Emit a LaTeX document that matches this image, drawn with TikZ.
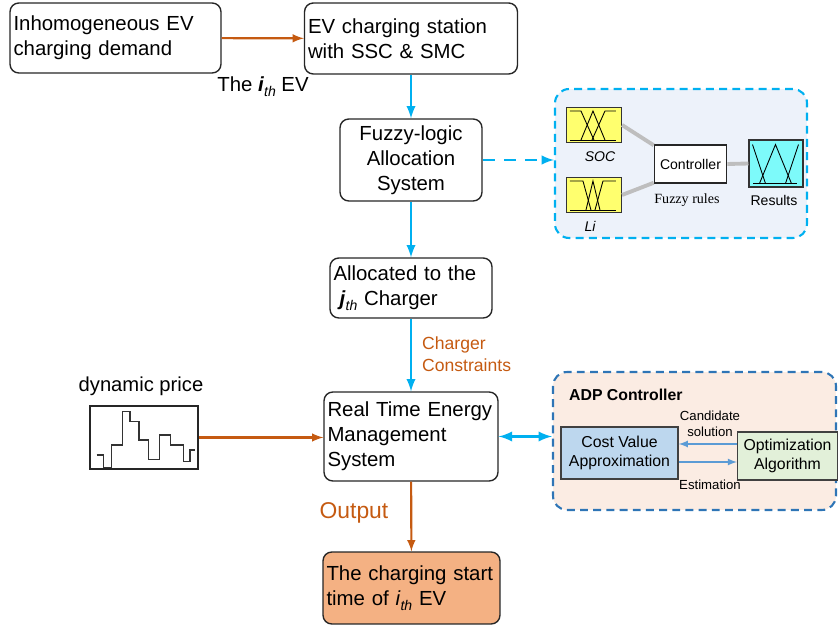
\documentclass[tikz,border=0pt]{standalone}
\usepackage{fontspec}
\setmainfont{Liberation Sans}
\newfontfamily\rulesfont{Liberation Serif}
\usepackage{tikz}
\usetikzlibrary{arrows}
\definecolor{skyline}{RGB}{0, 176, 240}
\definecolor{burnt}{RGB}{197, 90, 17}
\definecolor{peach}{RGB}{244, 177, 131}
\definecolor{mist}{RGB}{237, 242, 250}
\definecolor{blush}{RGB}{251, 236, 227}
\definecolor{adpblue}{RGB}{46, 117, 182}
\definecolor{costblue}{RGB}{189, 215, 238}
\definecolor{optgreen}{RGB}{226, 240, 217}
\definecolor{steel}{RGB}{91, 155, 213}
\definecolor{mfyellow}{RGB}{255, 255, 110}
\definecolor{mfcyan}{RGB}{125, 250, 250}
\definecolor{railgray}{RGB}{190, 190, 190}
\newcommand{\ordth}{\raisebox{-0.45ex}{\fontsize{8}{8}\selectfont\textit{th}}}
\hyphenpenalty=10000

\tikzset{
  mainbox/.style={draw=black!85, line width=0.8pt, rounded corners=5pt, fill=white,
                  align=left, inner xsep=0.07cm, font=\fontsize{11.6}{14.2}\selectfont},
  flowblue/.style={-latex, draw=skyline, line width=1.4pt},
  floworange/.style={-latex, draw=burnt, line width=1.2pt},
  orangelabel/.style={text=burnt, align=left, font=\fontsize{10}{12.5}\selectfont},
  panel/.style={line width=1.2pt, dash pattern=on 4.5pt off 3pt, rounded corners=8pt},
  mfbox/.style={draw=black!80, line width=0.6pt, minimum width=1.10cm, minimum height=0.70cm},
  mfline/.style={black, line width=0.5pt},
  rail/.style={railgray, line width=2.2pt},
  small/.style={font=\fontsize{8}{9.5}\selectfont},
  adpbox/.style={draw=black!75, line width=0.8pt, align=center, font=\fontsize{9}{11}\selectfont},
  adparrow/.style={-latex, draw=steel, line width=0.8pt}
}

\begin{document}
\begin{tikzpicture}[x=0.02cm, y=-0.02cm]
            \useasboundingbox (0,0) rectangle (840,628);
            % Main flow
            \node[mainbox, minimum width=4.22cm, minimum height=1.40cm, text width=4.08cm] (demand)    at (115.5, 38.0) {Inhomogeneous EV\\charging demand};
            \node[mainbox, minimum width=4.26cm, minimum height=1.42cm, text width=4.12cm] (station)   at (411.0, 38.5) {EV charging station\\with SSC \& SMC};
            \node[mainbox, minimum width=2.84cm, minimum height=1.64cm, text width=2.70cm, align=center]
                                                                                           (fuzzysys)  at (411.0,160.0) {Fuzzy-logic\\Allocation\\System};
            \node[mainbox, minimum width=3.24cm, minimum height=1.20cm, text width=3.10cm] (alloc)     at (411.0,288.0) {Allocated to the\\\hspace{0.3em}\textbf{\textit{j}}\ordth{} Charger};
            \node[mainbox, minimum width=3.48cm, minimum height=1.78cm, text width=3.34cm] (rtem)      at (411.0,436.5) {Real Time Energy\\Management\\System};
            \node[mainbox, fill=peach, minimum width=3.54cm, minimum height=1.44cm, text width=3.40cm]
                                                                                           (starttime) at (411.5,588.0) {The charging start\\time of \textit{i}\ordth{} EV};
            \draw[floworange] (demand)   -- (station);
            \draw[flowblue]   (station)  -- (fuzzysys);
            \draw[flowblue]   (fuzzysys) -- (alloc);
            \draw[flowblue]   (alloc)    -- (rtem);
            \draw[floworange] (rtem)     -- (starttime);
            \node[font=\fontsize{11.6}{14}\selectfont] (ithev) at (263, 87) {The \textbf{\textit{i}}\ordth{} EV};
            \node[orangelabel, anchor=west] (constr) at (416,354) {Charger\\Constraints};
            \node[text=burnt, font=\fontsize{13}{15}\selectfont] (outlbl) at (354,513) {Output};
            % Dynamic price
            \node[font=\fontsize{11.5}{13}\selectfont] (pricelbl) at (141,386) {dynamic price};
            \node[draw=black!85, line width=0.8pt, minimum width=2.16cm, minimum height=1.26cm] (pricebox) at (144,437.5) {};
            \draw[black!80, line width=0.6pt] (96.7,455) -- (103.3,455) -- (103.3,467.7) -- (111.7,467.7) -- (111.7,445) -- (122.3,445)
                 -- (122.3,411.7) -- (130,411.7) -- (130,421.7) -- (139,421.7) -- (139,440) -- (148.3,440) -- (148.3,459.3)
                 -- (159.3,459.3) -- (159.3,435) -- (170.7,435) -- (170.7,445) -- (183.3,445) -- (183.3,461.7) -- (190,461.7)
                 -- (190,450) -- (194.7,450);
            \draw[floworange] (pricebox.east) -- (pricebox.east -| rtem.west);
            % Fuzzy panel
            \node[panel, draw=skyline, fill=mist, minimum width=5.04cm, minimum height=2.98cm] (fuzzy) at (681,163.5) {};
            \draw[flowblue, dash pattern=on 7pt off 5pt] (fuzzysys.east) -- (fuzzysys.east -| fuzzy.west);
            \node[mfbox, fill=mfyellow] (soc) at (594,125) {};
            \node[mfbox, fill=mfyellow] (li)  at (594,195) {};
            \node[draw=black!85, line width=0.6pt, fill=white, small, minimum width=1.34cm, minimum height=0.76cm] (ctrl) at (690.5,164) {Controller};
            \node[mfbox, fill=mfcyan, minimum width=1.08cm, minimum height=0.94cm] (res) at (776,163.5) {};
            \draw[rail] (soc.east)  -- (ctrl.153);
            \draw[rail] (li.east)   -- (ctrl.207);
            \draw[rail] (ctrl.east) -- (res.west);
            \begin{scope}[shift={(soc.south west)}]
              \draw[mfline] (4,-3) -- (50,-3);
              \draw[mfline] (4,-32) -- (15,-32) -- (28,-3);
              \draw[mfline] (15,-3) -- (27,-32) -- (39,-3);
              \draw[mfline] (26,-3) -- (39,-32) -- (50,-32);
            \end{scope}
            \begin{scope}[shift={(li.south west)}]
              \draw[mfline] (4,-3) -- (50,-3);
              \draw[mfline] (4,-32) -- (17,-32) -- (25,-3);
              \draw[mfline] (20,-3) -- (27,-32) -- (34,-3);
              \draw[mfline] (29,-3) -- (37,-32) -- (50,-32);
            \end{scope}
            \begin{scope}[shift={(res.south west)}]
              \draw[mfline] (5,-4) -- (49,-4);
              \draw[mfline] (4,-43) -- (17,-4);
              \draw[mfline] (11,-4) -- (27,-43) -- (43,-4);
              \draw[mfline] (37,-4) -- (50,-43);
            \end{scope}
            \node[small, font=\fontsize{8}{9.5}\selectfont\itshape] (soclbl) at (600,157) {SOC};
            \node[small, font=\fontsize{8}{9.5}\selectfont\itshape] (lilbl)  at (590,226) {Li};
            \node[font=\fontsize{8}{9.5}\rulesfont] (ruleslbl) at (687,200) {Fuzzy rules};
            \node[small] (reslbl) at (774,200) {Results};
            % ADP controller
            \node[panel, draw=adpblue, fill=blush, minimum width=5.66cm, minimum height=2.76cm] (adp) at (694.5,441) {};
            \draw[latex-latex, draw=skyline, line width=1.6pt] (rtem.east) -- (rtem.east -| adp.west);
            \node[anchor=west, font=\fontsize{9}{11}\selectfont\bfseries] (adplbl) at (563,395) {ADP Controller};
            \node[adpbox, fill=costblue, minimum width=2.34cm, minimum height=1.04cm] (cost)  at (619.5,453) {Cost Value\\Approximation};
            \node[adpbox, fill=optgreen, minimum width=1.94cm, minimum height=0.96cm] (optim) at (787.5,456) {Optimization\\Algorithm};
            \draw[adparrow] ([yshift=0.24cm]optim.west) -- ([yshift=0.24cm]optim.west -| cost.east);
            \draw[adparrow] ([yshift=-0.18cm]cost.east) -- ([yshift=-0.18cm]cost.east -| optim.west);
            \node[align=center, font=\fontsize{7.5}{9}\selectfont] (candlbl) at (710,424) {Candidate\\solution};
            \node[font=\fontsize{7.5}{9}\selectfont] (estlbl) at (710,485) {Estimation};
\end{tikzpicture}
\end{document}
